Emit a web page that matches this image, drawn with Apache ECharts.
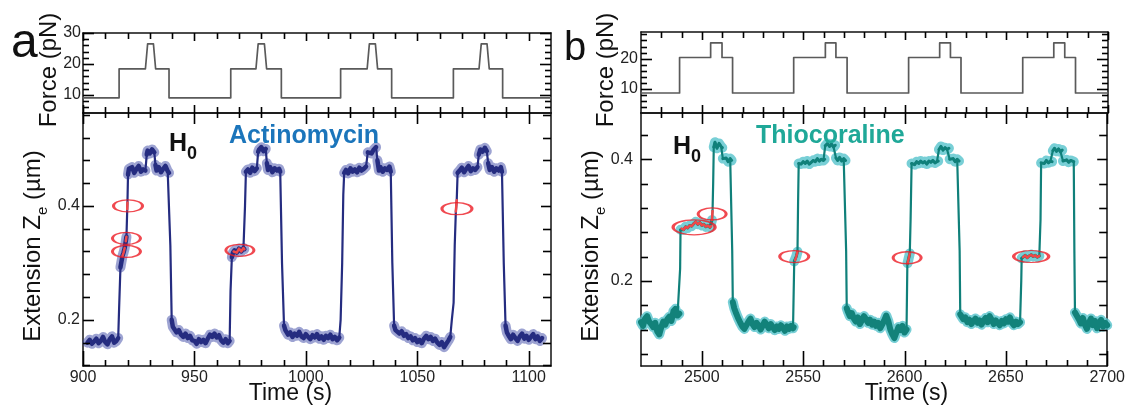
<!DOCTYPE html>
<html>
<head>
<meta charset="utf-8">
<script src="https://cdn.jsdelivr.net/npm/echarts@6/dist/echarts.min.js"></script>
<style>
  html, body { margin: 0; padding: 0; background: #fff; }
  #chart { width: 1128px; height: 412px; }
</style>
</head>
<body>
<div id="chart"></div>
<script>
// ---------- Panel a: Actinomycin ----------
// applied force protocol (time s, force pN)
const forceTimeA = [900, 916.2, 916.2, 928, 929, 931.6, 932.6, 938.6, 938.6, 966.3, 966.3, 977.6, 978.6, 981.4, 982.4, 989, 989,
  1015.6, 1015.6, 1027.5, 1028.5, 1031.2, 1032.2, 1038.5, 1038.5, 1066.2, 1066.2, 1077.7, 1078.7, 1081.3, 1082.3, 1088.3, 1088.3, 1110];
const forcePNA = [9.1, 9.1, 18.4, 18.4, 26.5, 26.5, 18.4, 18.4, 9.1, 9.1, 18.4, 18.4, 26.5, 26.5, 18.4, 18.4, 9.1,
  9.1, 18.4, 18.4, 26.5, 26.5, 18.4, 18.4, 9.1, 9.1, 18.4, 18.4, 26.5, 26.5, 18.4, 18.4, 9.1, 9.1];

// extension trace (time s, Ze µm)
const extA = [
  [902,0.160],[903,0.165],[904,0.158],[905,0.162],[906,0.167],[907,0.159],[908,0.163],[909,0.170],[910,0.161],[911,0.157],
  [912,0.166],[913,0.171],[914,0.160],[915,0.163],[915.8,0.168],
  [916.2,0.220],[916.8,0.292],[917.7,0.312],[918.2,0.318],[918.7,0.326],[919.2,0.338],[919.5,0.346],[919.85,0.394],[919.95,0.406],
  [920.2,0.455],[920.6,0.465],
  [921,0.462],[922,0.468],[923,0.458],[924,0.465],[925,0.470],[926,0.460],[927,0.464],[928,0.462],
  [928.6,0.490],[929,0.497],[930,0.492],[931,0.499],[932,0.494],[932.5,0.472],
  [933,0.462],[934,0.468],[935,0.459],[936,0.465],[937,0.470],[938,0.461],[938.6,0.458],
  [939.2,0.330],[939.8,0.200],[940.3,0.188],
  [941,0.186],[942,0.178],[943,0.182],[944,0.174],[945,0.170],[946,0.176],[947,0.168],[948,0.172],[949,0.164],[950,0.163],
  [951,0.158],[952,0.166],[953,0.161],[954,0.165],[955,0.159],[956,0.167],[957,0.174],[958,0.170],[959,0.176],[960,0.169],
  [961,0.173],[962,0.164],[963,0.160],[964,0.166],[965,0.159],[965.8,0.163],
  [966.2,0.250],[966.8,0.310],[967.3,0.318],[967.6,0.320],
  [968,0.322],[969,0.318],[970,0.325],[971,0.320],[972,0.326],[972.4,0.324],
  [972.7,0.400],[973.1,0.460],
  [974,0.464],[975,0.458],[976,0.467],[977,0.461],[978,0.466],
  [978.6,0.495],[979,0.499],[980,0.503],[981,0.496],[982,0.500],[982.5,0.475],
  [983,0.463],[984,0.468],[985,0.459],[986,0.466],[987,0.462],[988,0.465],[988.5,0.460],
  [989.3,0.300],[990.2,0.190],[990.8,0.182],
  [991,0.180],[992,0.174],[993,0.178],[994,0.170],[995,0.176],[996,0.172],[997,0.179],[998,0.171],[999,0.168],[1000,0.175],
  [1001,0.170],[1002,0.166],[1003,0.173],[1004,0.169],[1005,0.175],[1006,0.167],[1007,0.171],[1008,0.165],[1009,0.172],[1010,0.168],
  [1011,0.174],[1012,0.166],[1013,0.170],[1014,0.164],[1015,0.169],
  [1015.6,0.200],[1016.3,0.300],[1016.8,0.420],[1017.2,0.458],
  [1018,0.463],[1019,0.457],[1020,0.466],[1021,0.460],[1022,0.464],[1023,0.459],[1024,0.467],[1025,0.462],[1026,0.465],[1027,0.469],
  [1027.8,0.494],[1028.5,0.497],[1029.5,0.492],[1030.5,0.499],[1031.5,0.503],[1032.1,0.480],
  [1032.8,0.462],[1033.5,0.468],[1034.5,0.460],[1035.5,0.466],[1036.5,0.463],[1037.5,0.469],[1038.1,0.460],
  [1038.8,0.300],[1039.6,0.190],[1040.2,0.182],
  [1041,0.183],[1042,0.176],[1043,0.180],[1044,0.172],[1045,0.175],[1046,0.168],[1047,0.171],[1048,0.164],[1049,0.168],[1050,0.161],
  [1051,0.165],[1052,0.159],[1053,0.167],[1054,0.172],[1055,0.166],[1056,0.170],[1057,0.163],[1058,0.167],[1059,0.160],[1060,0.156],
  [1061,0.161],[1062,0.152],[1063,0.158],[1064,0.164],
  [1064.8,0.170],[1065.5,0.200],[1066.3,0.230],[1066.8,0.330],[1067.3,0.390],[1067.7,0.410],[1068.1,0.458],
  [1069,0.462],[1070,0.467],[1071,0.459],[1072,0.465],[1073,0.470],[1074,0.461],[1075,0.466],[1076,0.463],[1077,0.468],
  [1077.6,0.490],[1078.3,0.499],[1079.3,0.495],[1080.3,0.502],[1081.2,0.496],[1081.8,0.475],
  [1082.5,0.463],[1083.5,0.468],[1084.5,0.460],[1085.5,0.466],[1086.5,0.462],[1087.5,0.468],[1088,0.460],
  [1088.8,0.300],[1089.6,0.190],[1090.2,0.178],
  [1091,0.172],[1092,0.166],[1093,0.174],[1094,0.168],[1095,0.163],[1096,0.171],[1097,0.176],[1098,0.167],[1099,0.172],[1100,0.165],
  [1101,0.170],[1102,0.175],[1103,0.166],[1104,0.171],[1105,0.163],[1106,0.168]
];
// highlighted stretches (time windows, s) and marked events (time s, Ze µm)
const hiWindowsA = [[917.6, 918.75], [919.15, 919.6], [919.8, 920.0], [967.5, 972.5], [1067.25, 1067.75]];
const ringsA = [[920.2, 0.400], [919.5, 0.343], [919.5, 0.320], [970.4, 0.322], [1067.8, 0.395]];

// ---------- Panel b: Thiocoraline ----------
const forceTimeB = [2470, 2489, 2489, 2504.3, 2504.3, 2509.9, 2509.9, 2515.1, 2515.1, 2545.2, 2545.2, 2560.8, 2560.8, 2566, 2566, 2571.5, 2571.5,
  2601.8, 2601.8, 2617.1, 2617.1, 2622.4, 2622.4, 2627.6, 2627.6, 2658, 2658, 2673.3, 2673.3, 2678.7, 2678.7, 2684, 2684, 2700];
const forcePNB = [8.7, 8.7, 20.4, 20.4, 25.2, 25.2, 20.4, 20.4, 8.7, 8.7, 20.4, 20.4, 25.2, 25.2, 20.4, 20.4, 8.7,
  8.7, 20.4, 20.4, 25.2, 25.2, 20.4, 20.4, 8.7, 8.7, 20.4, 20.4, 25.2, 25.2, 20.4, 20.4, 8.7, 8.7];

const extB = [
  [2470,0.132],[2471,0.126],[2472,0.138],[2473,0.142],[2474,0.133],[2475,0.129],[2476,0.124],[2477,0.131],[2478,0.117],[2479,0.112],
  [2480,0.124],[2481,0.133],[2482,0.128],[2483,0.137],[2484,0.141],[2485,0.134],[2486,0.150],[2487,0.154],[2488,0.143],[2488.9,0.146],
  [2489.3,0.220],[2489.5,0.284],
  [2490,0.286],[2491,0.284],[2492,0.289],[2493,0.287],[2494,0.291],[2495,0.290],[2496,0.294],[2497,0.297],[2498,0.293],[2499,0.296],
  [2500,0.291],[2501,0.293],[2502,0.289],[2503,0.291],[2504,0.288],[2504.6,0.290],
  [2505.0,0.300],[2505.3,0.315],[2505.6,0.360],[2505.9,0.420],
  [2506.5,0.428],[2507.5,0.418],[2508.5,0.426],[2509.5,0.421],[2510.1,0.419],
  [2510.4,0.401],[2511,0.398],[2512,0.402],[2513,0.396],[2514,0.401],[2514.7,0.398],
  [2515.0,0.250],[2515.3,0.165],
  [2516,0.155],[2517,0.146],[2518,0.138],[2519,0.131],[2520,0.125],[2521,0.121],[2522,0.127],[2523,0.133],[2524,0.138],[2525,0.129],
  [2526,0.124],[2527,0.131],[2528,0.127],[2529,0.120],[2530,0.126],[2531,0.133],[2532,0.128],[2533,0.122],[2534,0.129],[2535,0.124],
  [2536,0.119],[2537,0.125],[2538,0.121],[2539,0.127],[2540,0.123],[2541,0.118],[2542,0.125],[2543,0.121],[2544,0.126],[2545,0.122],
  [2545.3,0.124],
  [2545.6,0.232],[2546.05,0.234],[2546.6,0.240],[2547.2,0.248],[2547.5,0.330],[2547.8,0.393],
  [2548.5,0.395],[2549,0.392],[2550,0.396],[2551,0.393],[2552,0.397],[2553,0.392],[2554,0.395],[2555,0.398],[2556,0.396],[2557,0.401],
  [2558,0.397],[2559,0.400],[2560,0.398],[2560.6,0.400],
  [2560.9,0.422],[2562,0.426],[2563,0.421],[2564,0.425],[2565,0.420],[2565.8,0.423],
  [2566.2,0.402],[2567,0.398],[2568,0.403],[2569,0.397],[2570,0.401],[2570.9,0.398],
  [2571.2,0.250],[2571.5,0.155],
  [2572,0.150],[2573,0.142],[2574,0.147],[2575,0.138],[2576,0.133],[2577,0.140],[2578,0.129],[2579,0.135],[2580,0.142],[2581,0.137],
  [2582,0.131],[2583,0.136],[2584,0.128],[2585,0.133],[2586,0.126],[2587,0.131],[2588,0.122],[2589,0.128],[2590,0.135],[2591,0.143],
  [2592,0.134],[2593,0.120],[2594,0.112],[2595,0.106],[2596,0.115],[2597,0.124],[2598,0.119],[2599,0.126],[2600,0.115],[2601,0.120],
  [2601.4,0.226],[2601.5,0.229],[2602.0,0.236],[2602.6,0.245],[2603.0,0.300],[2603.5,0.393],
  [2604,0.394],[2605,0.391],[2606,0.396],[2607,0.393],[2608,0.397],[2609,0.394],[2610,0.396],[2611,0.392],[2612,0.397],[2613,0.395],
  [2614,0.398],[2615,0.394],[2616,0.396],[2616.6,0.397],
  [2617,0.416],[2618,0.421],[2619,0.415],[2620,0.419],[2621,0.416],[2621.9,0.418],
  [2622.3,0.400],[2623,0.397],[2624,0.401],[2625,0.396],[2626,0.400],[2626.9,0.397],
  [2627.2,0.250],[2627.5,0.145],
  [2628,0.143],[2629,0.137],[2630,0.140],[2631,0.132],[2632,0.136],[2633,0.129],[2634,0.134],[2635,0.138],[2636,0.131],[2637,0.135],
  [2638,0.128],[2639,0.134],[2640,0.139],[2641,0.132],[2642,0.142],[2643,0.136],[2644,0.129],[2645,0.135],[2646,0.131],[2647,0.127],
  [2648,0.134],[2649,0.130],[2650,0.137],[2651,0.133],[2652,0.140],[2653,0.131],[2654,0.127],[2655,0.133],[2656,0.129],[2657,0.132],
  [2657.6,0.200],[2657.8,0.237],
  [2658.5,0.239],[2659.5,0.242],[2660.5,0.238],[2661.5,0.241],[2662.5,0.243],[2663.5,0.240],[2664.5,0.242],[2665.5,0.239],[2666.5,0.241],
  [2667.1,0.300],[2667.4,0.394],
  [2668,0.396],[2669,0.393],[2670,0.398],[2671,0.394],[2672,0.397],[2672.8,0.396],
  [2673.2,0.414],[2674,0.418],[2675,0.413],[2676,0.417],[2677,0.412],[2677.8,0.415],
  [2678.2,0.397],[2679,0.394],[2680,0.399],[2681,0.395],[2682,0.398],[2683.5,0.396],
  [2683.8,0.250],[2684.1,0.148],
  [2685,0.145],[2686,0.137],[2687,0.130],[2688,0.139],[2689,0.128],[2690,0.121],[2691,0.131],[2692,0.138],[2693,0.127],[2694,0.134],
  [2695,0.122],[2696,0.130],[2697,0.136],[2698,0.125],[2699,0.131],[2700,0.127]
];
const hiWindowsB = [[2489.8, 2504.7], [2504.95, 2505.35], [2546.0, 2547.25], [2601.45, 2602.65], [2658.4, 2666.6]];
const ringsB = [[2496.2, 0.288], [2505.1, 0.310], [2545.6, 0.240], [2601.3, 0.238], [2662.5, 0.240]];

// ---------- axis ranges and ticks ----------
const timeRangeA = [900, 1110], forceRangeA = [4.2, 30], extRangeA = [0.119, 0.563];
const timeRangeB = [2470, 2700], forceRangeB = [2.1, 28.8], extRangeB = [0.06, 0.476];

const timeMajorA = [900, 950, 1000, 1050, 1100];
const timeMinorA = [910, 920, 930, 940, 960, 970, 980, 990, 1010, 1020, 1030, 1040, 1060, 1070, 1080, 1090];
const timeMajorB = [2500, 2550, 2600, 2650, 2700];
const timeMinorB = [2480, 2490, 2510, 2520, 2530, 2540, 2560, 2570, 2580, 2590, 2610, 2620, 2630, 2640, 2660, 2670, 2680, 2690];
const forceMajorA = [10, 20, 30];
const forceMinorA = [6, 8, 12, 14, 16, 18, 22, 24, 26, 28];
const forceMajorB = [10, 20];
const forceMinorB = [4, 6, 8, 12, 14, 16, 18, 22, 24, 26, 28];
const extMajorA = [0.2, 0.4];
const extMinorA = [0.12, 0.16, 0.24, 0.28, 0.32, 0.36, 0.44, 0.48, 0.52, 0.56];
const extMajorB = [0.2, 0.4];
const extMinorB = [0.08, 0.12, 0.16, 0.24, 0.28, 0.32, 0.36, 0.44];

// ---------- drawing ----------
const FONT = '"Liberation Sans", Arial, Helvetica, sans-serif';
const INK = '#000';
const RED = '#ec1c24';

const grids = [
  { left: 83, top: 33, width: 468, height: 80 },    // a: force
  { left: 83, top: 113, width: 468, height: 253 },  // a: extension
  { left: 641, top: 32, width: 467, height: 81 },   // b: force
  { left: 641, top: 113, width: 467, height: 253 }  // b: extension
];

const xAxes = [], yAxes = [];
function addAxis(list, grid, range, pos, label) {
  list.push({
    type: 'value', gridIndex: grid, min: range[0], max: range[1], position: pos,
    splitLine: { show: false },
    axisLine: { show: true, onZero: false, lineStyle: { color: '#111', width: 1.5 } },
    axisTick: { show: false },
    axisLabel: label ? Object.assign({ show: true, color: '#222', fontSize: 16, fontFamily: FONT }, label) : { show: false }
  });
  return list.length - 1;
}
const fmt1 = v => v.toFixed(1);
const fmt0 = v => String(Math.round(v));

// frame axes: bottom / top / left / right for every grid
const ax = grids.map(() => ({}));
function frame(g, xr, yr, xLabels, yLabels) {
  ax[g].xb = addAxis(xAxes, g, xr, 'bottom', xLabels);
  ax[g].xt = addAxis(xAxes, g, xr, 'top', null);
  ax[g].yl = addAxis(yAxes, g, yr, 'left', yLabels);
  ax[g].yr = addAxis(yAxes, g, yr, 'right', null);
}
frame(0, timeRangeA, forceRangeA, null, { margin: 2, customValues: forceMajorA, formatter: fmt0 });
frame(1, timeRangeA, extRangeA, { margin: 4, customValues: timeMajorA, formatter: fmt0 }, { margin: 3, customValues: extMajorA, formatter: fmt1 });
frame(2, timeRangeB, forceRangeB, null, { margin: 3, customValues: forceMajorB, formatter: fmt0 });
frame(3, timeRangeB, extRangeB, { margin: 4, customValues: timeMajorB, formatter: fmt0 }, { margin: 8, customValues: extMajorB, formatter: fmt1 });

const zip = (ts, vs) => ts.map((t, i) => [t, vs[i]]);

// level stretches of a trace: broken wherever it jumps between levels
function bandOf(pts) {
  const out = [];
  for (let i = 0; i < pts.length; i++) {
    if (i > 0) {
      const dt = pts[i][0] - pts[i - 1][0];
      const dv = Math.abs(pts[i][1] - pts[i - 1][1]);
      if (dv / dt > 0.03) out.push([pts[i][0], '-']);
    }
    out.push(pts[i]);
  }
  return out;
}
// low (unextended) stretches of a trace
function lowOf(pts, limit) {
  const out = [];
  pts.forEach((p, i) => {
    if (p[1] < limit) out.push(p);
    else if (i > 0 && pts[i - 1][1] < limit) out.push([p[0], '-']);
  });
  return out;
}
// trace points falling in the highlighted windows
function pick(pts, windows) {
  const out = [];
  windows.forEach((w, k) => {
    if (k > 0) out.push([w[0], '-']);
    pts.forEach(p => { if (p[0] >= w[0] && p[0] <= w[1]) out.push(p); });
  });
  return out;
}

const ringSizeA = [[29, 12], [28, 12], [28, 12], [28, 12], [30, 12]];
const ringSizeB = [[42, 15], [28, 12], [29, 12], [28, 12], [35, 12]];

function lineSeries(g, data, color, width, opacity, z) {
  return {
    type: 'line', xAxisIndex: ax[g].xb, yAxisIndex: ax[g].yl, data: data, showSymbol: false, symbol: 'none',
    connectNulls: false, silent: true, z: z,
    lineStyle: { color: color, width: width, opacity: opacity, join: 'round', cap: 'round' }
  };
}
function ringSeries(g, data, sizes) {
  return {
    type: 'scatter', xAxisIndex: ax[g].xb, yAxisIndex: ax[g].yl, data: data, z: 10, silent: true,
    symbol: 'circle', symbolSize: (v, p) => sizes[p.dataIndex],
    itemStyle: { color: 'rgba(0,0,0,0)', borderColor: RED, borderWidth: 2 }
  };
}

const series = [
  lineSeries(0, zip(forceTimeA, forcePNA), '#5a5a5a', 1.7, 1, 3),
  lineSeries(1, bandOf(extA), '#3b48a6', 10, 0.5, 2),
  lineSeries(1, extA, '#252c80', 2.2, 1, 3),
  lineSeries(1, bandOf(extA), '#252c80', 4.5, 1, 3),
  lineSeries(1, pick(extA, hiWindowsA), '#f04848', 2.5, 1, 5),
  ringSeries(1, ringsA, ringSizeA),

  lineSeries(2, zip(forceTimeB, forcePNB), '#5a5a5a', 1.7, 1, 3),
  lineSeries(3, bandOf(extB), '#56c3cc', 10, 0.8, 2),
  lineSeries(3, extB, '#10807a', 2.2, 1, 3),
  lineSeries(3, bandOf(extB), '#10807a', 3, 1, 3),
  lineSeries(3, lowOf(extB, 0.2), '#12827a', 6, 1, 3),
  lineSeries(3, pick(extB, hiWindowsB), '#f04848', 2.5, 1, 5),
  ringSeries(3, ringsB, ringSizeB)
];

function txt(x, y, text, font, fill, align, rotation, rich) {
  const style = { text: text, font: font, fill: fill, align: align, textAlign: align,
                  verticalAlign: 'middle', textVerticalAlign: 'middle' };
  if (rich) style.rich = rich;
  return { type: 'text', x: x, y: y, rotation: rotation || 0, z: 100, silent: true, style: style };
}

const zeRich = {
  n: { fontFamily: FONT, fontSize: 24, lineHeight: 34, fill: '#111', color: '#111', verticalAlign: 'middle' },
  s: { fontFamily: FONT, fontSize: 15, lineHeight: 15, fill: '#111', color: '#111', verticalAlign: 'bottom' }
};
const hRich = {
  h: { fontFamily: FONT, fontSize: 25, fontWeight: 'bold', lineHeight: 39, fill: '#111', color: '#111', verticalAlign: 'middle' },
  s: { fontFamily: FONT, fontSize: 18, fontWeight: 'bold', lineHeight: 18, fill: '#111', color: '#111', verticalAlign: 'bottom' }
};

const labels = [
  txt(11, 44, 'a', '48px ' + FONT, '#111', 'left'),
  txt(564, 49, 'b', '40px ' + FONT, '#111', 'left'),
  txt(49, 70, 'Force (pN)', '24px ' + FONT, '#111', 'center', Math.PI / 2),
  txt(606, 70, 'Force (pN)', '24px ' + FONT, '#111', 'center', Math.PI / 2),
  txt(33.5, 246, '{n|Extension Z}{s|e}{n| (µm)}', '24px ' + FONT, '#111', 'center', Math.PI / 2, zeRich),
  txt(591, 246, '{n|Extension Z}{s|e}{n| (µm)}', '24px ' + FONT, '#111', 'center', Math.PI / 2, zeRich),
  txt(290.5, 394, 'Time (s)', '23px ' + FONT, '#111', 'center'),
  txt(906.5, 394, 'Time (s)', '23px ' + FONT, '#111', 'center'),
  txt(169, 144, '{h|H}{s|0}', 'bold 25px ' + FONT, '#111', 'left', 0, hRich),
  txt(673, 147, '{h|H}{s|0}', 'bold 25px ' + FONT, '#111', 'left', 0, hRich),
  txt(229, 136, 'Actinomycin', 'bold 25px ' + FONT, '#1b75bb', 'left'),
  txt(756, 136, 'Thiocoraline', 'bold 25px ' + FONT, '#1fa898', 'left')
];

const chart = echarts.init(document.getElementById('chart'), null, { renderer: 'canvas' });
chart.setOption({
  animation: false,
  backgroundColor: '#fff',
  grid: grids,
  xAxis: xAxes,
  yAxis: yAxes,
  series: series
});

// inward tick marks on all four sides, placed with each axis's own scale
const ticks = [];
function tickSet(g, xr, yr, xMaj, xMin, yMaj, yMin, L) {
  const X = v => chart.convertToPixel({ xAxisIndex: ax[g].xb }, v);
  const Y = v => chart.convertToPixel({ yAxisIndex: ax[g].yl }, v);
  const yB = Y(yr[0]), yT = Y(yr[1]), xL = X(xr[0]), xR = X(xr[1]);
  function seg(x1, y1, x2, y2) {
    ticks.push({ type: 'line', z: 50, silent: true,
      shape: { x1: x1, y1: y1, x2: x2, y2: y2 },
      style: { stroke: INK, lineWidth: 1.6 } });
  }
  const vx = (vals, len, yEdge, dir) => vals.forEach(v => { const x = Math.round(X(v)) + 0.5; seg(x, yEdge, x, yEdge + dir * len); });
  const hy = (vals, len, xEdge, dir) => vals.forEach(v => { const y = Math.round(Y(v)) + 0.5; seg(xEdge, y, xEdge + dir * len, y); });
  vx(xMaj, L.xb[0], yB, -1); vx(xMin, L.xb[1], yB, -1);
  vx(xMaj, L.xt[0], yT, 1);  vx(xMin, L.xt[1], yT, 1);
  hy(yMaj, L.yl[0], xL, 1);  hy(yMin, L.yl[1], xL, 1);
  hy(yMaj, L.yr[0], xR, -1); hy(yMin, L.yr[1], xR, -1);
}
const forceTickLen = { xb: [8, 6], xt: [8, 6], yl: [11, 6], yr: [11, 6] };
const extTickLen = { xb: [15, 6], xt: [11, 5], yl: [11, 7], yr: [10, 8] };
tickSet(0, timeRangeA, forceRangeA, timeMajorA, timeMinorA, forceMajorA, forceMinorA, forceTickLen);
tickSet(1, timeRangeA, extRangeA, timeMajorA, timeMinorA, extMajorA, extMinorA, extTickLen);
tickSet(2, timeRangeB, forceRangeB, timeMajorB, timeMinorB, forceMajorB, forceMinorB, forceTickLen);
tickSet(3, timeRangeB, extRangeB, timeMajorB, timeMinorB, extMajorB, extMinorB, extTickLen);

chart.setOption({ graphic: labels.concat(ticks) });
</script>
</body>
</html>
